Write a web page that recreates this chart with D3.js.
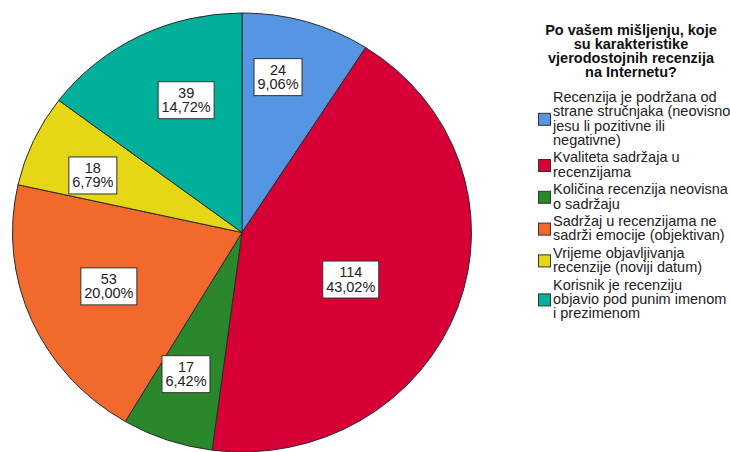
<!DOCTYPE html>
<html>
<head>
<meta charset="utf-8">
<script src="https://cdn.jsdelivr.net/npm/d3@7"></script>
<style>
  body { margin: 0; background: #fff; }
  svg { display: block; font-family: "Liberation Sans", Arial, sans-serif; }
</style>
</head>
<body>
<svg id="chart" width="730" height="452"></svg>
<script>
// data
const titleLines = ["Po vašem mišljenju, koje", "su karakteristike", "vjerodostojnih recenzija", "na Internetu?"];
const categories = [
    ["Recenzija je podržana od", "strane stručnjaka (neovisno", "jesu li pozitivne ili", "negativne)"],
    ["Kvaliteta sadržaja u", "recenzijama"],
    ["Količina recenzija neovisna", "o sadržaju"],
    ["Sadržaj u recenzijama ne", "sadrži emocije (objektivan)"],
    ["Vrijeme objavljivanja", "recenzije (noviji datum)"],
    ["Korisnik je recenziju", "objavio pod punim imenom", "i prezimenom"]
];
const counts = [24, 114, 17, 53, 18, 39];
const colors = ["#5596e3", "#d60036", "#2b872b", "#f2692d", "#e5d715", "#00b09b"];

// where SPSS put the value boxes (fraction of radius, angle shift in degrees)
const labelRadius = [0.725, 0.52, 0.69, 0.63, 0.70, 0.65];
const labelShift = [-3.8, 4.3, 1.7, 0.5, -3, 4.5];

const svg = d3.select("#chart");
const total = d3.sum(counts);
const fmt = v => d3.format(".2f")(v * 100).replace(".", ",") + "%";

const cx = 242, cy = 232.5, rx = 229.5, ry = 219.5;
const sy = ry / rx;

const pie = d3.pie().sort(null).value(d => d);
const arcs = pie(counts);
const arc = d3.arc().innerRadius(0).outerRadius(rx);

const g = svg.append("g")
    .attr("transform", `translate(${cx},${cy}) scale(1,${sy})`);

g.selectAll("path.slice")
    .data(arcs)
    .join("path")
    .attr("class", "slice")
    .attr("d", arc)
    .attr("fill", (d, i) => colors[i])
    .attr("stroke", "#2b2b2b")
    .attr("stroke-width", 1)
    .attr("vector-effect", "non-scaling-stroke");

// value labels
const labels = svg.append("g").attr("transform", `translate(${cx},${cy})`);
arcs.forEach((d, i) => {
    const a = (d.startAngle + d.endAngle) / 2 + labelShift[i] * Math.PI / 180;
    const r = rx * labelRadius[i];
    const x = r * Math.sin(a);
    const y = -r * Math.cos(a) * sy;
    const lg = labels.append("g").attr("transform", `translate(${x},${y})`);
    const box = lg.append("rect");
    const t = lg.append("text")
        .attr("text-anchor", "middle")
        .attr("font-size", 14.5)
        .attr("fill", "#222");
    t.append("tspan").attr("x", 0).attr("y", -2.5).text(d.data);
    t.append("tspan").attr("x", 0).attr("y", 12).text(fmt(d.data / total));
    const bb = t.node().getBBox();
    const w = Math.round(bb.width + 7), h = 37;
    box.attr("x", -w / 2).attr("y", -h / 2)
        .attr("width", w).attr("height", h)
        .attr("fill", "#fff")
        .attr("stroke", "#333")
        .attr("stroke-width", 1);
});

// legend
const legend = svg.append("g");
legend.append("text")
    .attr("text-anchor", "middle")
    .attr("font-size", 14.5)
    .attr("font-weight", "bold")
    .attr("fill", "#111")
    .selectAll("tspan")
    .data(titleLines)
    .join("tspan")
    .attr("x", 631)
    .attr("y", (d, i) => 35 + i * 14)
    .text(d => d);

const lineH = 14.4, gap = 3;
let y0 = 101.7;
categories.forEach((lines, i) => {
    const top = y0 - 11;
    const bottom = y0 + (lines.length - 1) * lineH + 3;
    const mid = (top + bottom) / 2;
    legend.append("rect")
        .attr("x", 538.5).attr("y", mid - 6)
        .attr("width", 12).attr("height", 12)
        .attr("fill", colors[i])
        .attr("stroke", "#333")
        .attr("stroke-width", 1);
    legend.append("text")
        .attr("font-size", 14.5)
        .attr("fill", "#222")
        .selectAll("tspan")
        .data(lines)
        .join("tspan")
        .attr("x", 553)
        .attr("y", (d, j) => y0 + j * lineH)
        .text(d => d);
    y0 += lines.length * lineH + gap;
});
</script>
</body>
</html>
